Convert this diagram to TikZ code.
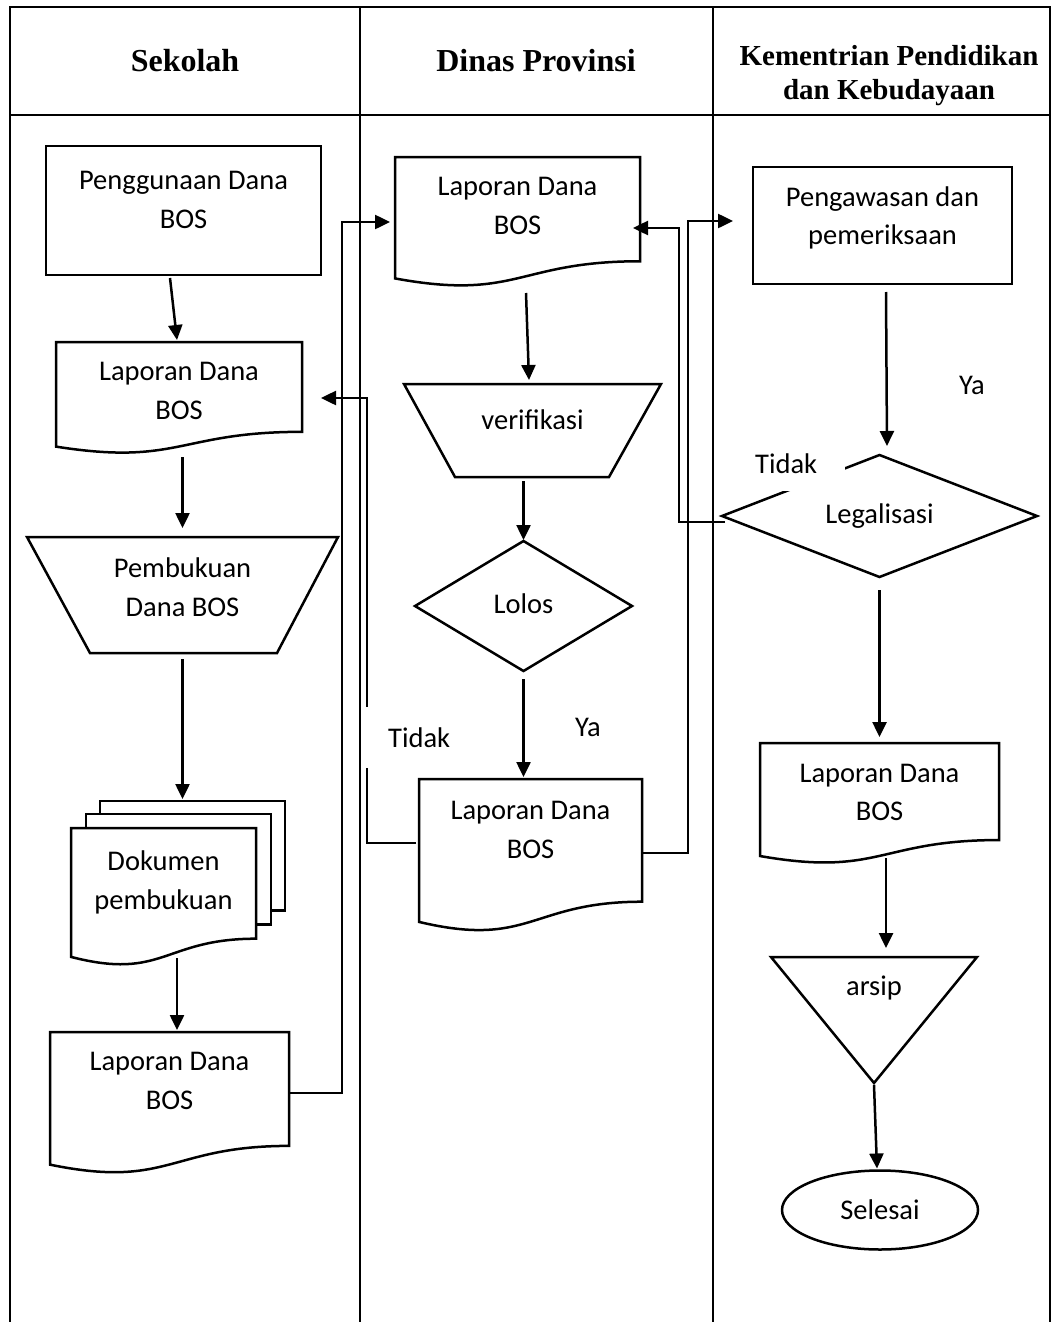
\documentclass[tikz,border=0pt]{standalone}
\usepackage{fontspec}
\setmainfont{Carlito}
\newfontfamily\headfont{Liberation Serif}
\usetikzlibrary{calc,arrows.meta,shapes.geometric}
\newcommand\bodysize{\fontsize{28.5pt}{38.5pt}\selectfont}
\newcommand\drawdoc[1]{\draw[ln] (#1.north west) -- (#1.north east) -- ($(#1.north east)!0.802!(#1.south east)$) .. controls ($(#1.north)!0.802!(#1.south)$) and ($(#1.north)!1.1075!(#1.south)$) .. ($(#1.north west)!0.934!(#1.south west)$) -- cycle;}
\tikzset{
  ln/.style={line width=2.5pt},
  lane/.style={line width=2.2pt},
  arr/.style={line width=2.5pt,-{Triangle[length=15pt,width=14pt]}},
  shp/.style={draw,line width=2.5pt,inner sep=0pt,outer sep=0pt},
  ghost/.style={inner sep=0pt,outer sep=0pt},
  txt/.style={font=\bodysize,align=center,inner sep=0pt},
  lblbox/.style={fill=white,font=\bodysize,align=left,inner ysep=0pt},
  head/.style={font={\headfont\fontsize{32pt}{36pt}\selectfont\bfseries},align=center,inner sep=0pt},
  headsm/.style={font={\headfont\fontsize{29pt}{34pt}\selectfont\bfseries},align=center,inner sep=0pt}
}
\begin{document}
\begin{tikzpicture}[x=1pt,y=-1pt]
\useasboundingbox (0,0) rectangle (1053,1322);
% swimlanes
\draw[lane] (10,1322) -- (10,7) -- (1050,7) -- (1050,1322);
\draw[lane] (10,115) -- (1050,115);
\draw[lane] (360,7) -- (360,1322);
\draw[lane] (713,7) -- (713,1322);
\node[head] (hS) at (185,61) {Sekolah};
\node[head] (hD) at (536,61) {Dinas Provinsi};
\node[headsm] (hK) at (889,76) {Kementrian Pendidikan\\dan Kebudayaan};

% Sekolah
\node[shp,minimum width=275pt,minimum height=129pt,label={[txt,yshift=10.5pt]center:Penggunaan Dana\\BOS}] (r1) at (183.5,210.5) {};
\node[ghost,anchor=north west,minimum width=246pt,minimum height=112pt,label={[txt,yshift=7pt]center:Laporan Dana\\BOS}] (d3) at (56,342) {};
\drawdoc{d3}
\node[ghost,minimum width=311pt,minimum height=116pt,label={[txt,yshift=8pt]center:Pembukuan\\Dana BOS}] (t5) at (182.5,595) {};
\draw[ln] (t5.north west) -- (t5.north east) -- ($(t5.south east)+(-61,0)$) -- ($(t5.south west)+(63,0)$) -- cycle;
\node[ghost,anchor=north west,minimum width=185pt,minimum height=138pt,label={[txt,yshift=14.5pt]center:Dokumen\\pembukuan}] (m7) at (71,828) {};
\drawdoc{m7}
\draw[ln] ($(m7.north west)+(15,0)$) -- ($(m7.north west)+(15,-14)$) -- ($(m7.north east)+(15,-14)$) -- ($(m7.north east)+(15,96.7)$) -- ($(m7.north east)+(0,96.7)$);
\draw[ln] ($(m7.north west)+(29,-14)$) -- ($(m7.north west)+(29,-27)$) -- ($(m7.north east)+(29,-27)$) -- ($(m7.north east)+(29,82.7)$) -- ($(m7.north east)+(15,82.7)$);
\coordinate (m7top) at ($(m7.north)+(29,-27)$);
\node[ghost,anchor=north west,minimum width=239pt,minimum height=142pt,label={[txt,yshift=22pt]center:Laporan Dana\\BOS}] (d9) at (50,1032) {};
\drawdoc{d9}

% Dinas Provinsi
\node[ghost,anchor=north west,minimum width=245pt,minimum height=130pt,label={[txt,yshift=16pt]center:Laporan Dana\\BOS}] (d11) at (395,157) {};
\drawdoc{d11}
\node[ghost,minimum width=257pt,minimum height=93pt,label={[txt,yshift=10.5pt]center:verifikasi}] (t13) at (532.5,430.5) {};
\draw[ln] (t13.north west) -- (t13.north east) -- ($(t13.south east)+(-52,0)$) -- ($(t13.south west)+(51,0)$) -- cycle;
\node[ghost,minimum width=217pt,minimum height=130pt,label={[txt,yshift=2pt]center:Lolos}] (l15) at (523.5,606) {};
\draw[ln] (l15.north) -- (l15.east) -- (l15.south) -- (l15.west) -- cycle;
\node[ghost,anchor=north west,minimum width=223pt,minimum height=153pt,label={[txt,yshift=25.5pt]center:Laporan Dana\\BOS}] (d17) at (419,779) {};
\drawdoc{d17}

% Kementrian
\node[shp,minimum width=259pt,minimum height=117pt,label={[txt,yshift=7.5pt]center:Pengawasan dan\\pemeriksaan}] (r20) at (882.5,225.5) {};
\node[ghost,minimum width=315pt,minimum height=122pt,label={[txt]center:Legalisasi}] (l22) at (879.5,516) {};
\draw[ln] (l22.north) -- (l22.east) -- (l22.south) -- (l22.west) -- cycle;
\node[ghost,anchor=north west,minimum width=239pt,minimum height=121pt,label={[txt,yshift=11pt]center:Laporan Dana\\BOS}] (d24) at (760,743) {};
\drawdoc{d24}
\node[ghost,minimum width=206pt,minimum height=126pt,label={[txt,yshift=32pt]center:arsip}] (t26) at (874,1020) {};
\draw[ln] (t26.north west) -- (t26.north east) -- (t26.south) -- cycle;
\node[shp,ellipse,minimum width=196pt,minimum height=79pt,font=\bodysize] (e27) at (880,1210) {Selesai};

% connectors
\draw[arr] ($(r1.south)+(-13.5,3)$) -- ($(d3.north)+(-2,-2)$);
\draw[arr,shorten <=3pt,shorten >=9pt] (d3.south -| t5.north) -- (t5.north);
\draw[arr,shorten <=6pt,shorten >=2pt] (t5.south) -- (t5.south |- m7top);
\draw[arr] ($(m7.south)+(13.5,-8)$) -- ($(d9.north)+(7.5,-2)$);
\draw[arr] ($(d9.east)+(0,-10)$) -| ($(d11.west)+(-53,0)$) -- ($(d11.west)+(-5,0)$);
\draw[arr] ($(d11.south)+(8.5,6)$) -- ($(t13.north)+(-3.5,-4)$);
\draw[arr,shorten <=4pt,shorten >=1pt] (t13.south -| l15.north) -- (l15.north);
\draw[arr,shorten <=8pt,shorten >=2pt] (l15.south) -- (l15.south |- d17.north);
\draw[arr] ($(d17.west)+(-3,-12.5)$) -| ($(d3.east)+(65,0)$) -- ($(d3.east)+(19,0)$);
\draw[arr] ($(d17.east)+(1,-2.5)$) -| ($(r20.west)+(-65,-4.5)$) -- ($(r20.west)+(-20,-4.5)$);
\draw[arr] ($(r20.south)+(3.5,8)$) -- ($(l22.north)+(7.5,-9)$);
\draw[arr] ($(l22.west)+(3,6)$) -| ($(d11.east)+(39,6)$) -- ($(d11.east)+(-7,6)$);
\draw[arr,shorten <=13pt,shorten >=6pt] (l22.south) -- (d24.north);
\draw[arr] ($(d24.south)+(6.5,-6)$) -- ($(t26.north)+(12,-9)$);
\draw[arr] ($(t26.south)+(0,2)$) -- ($(e27.north)+(-3,-2)$);

% labels
\node[lblbox,anchor=north west,text width=62pt,inner xsep=26pt,minimum height=61pt] (tD) at (362,707) {Tidak};
\node[lblbox,anchor=north west,text width=80pt,inner xsep=10pt,minimum height=54pt] (tK) at (745,437) {Tidak};
\node[txt] (yD) at (588,727) {Ya};
\node[txt] (yK) at (972,385) {Ya};
\end{tikzpicture}
\end{document}
